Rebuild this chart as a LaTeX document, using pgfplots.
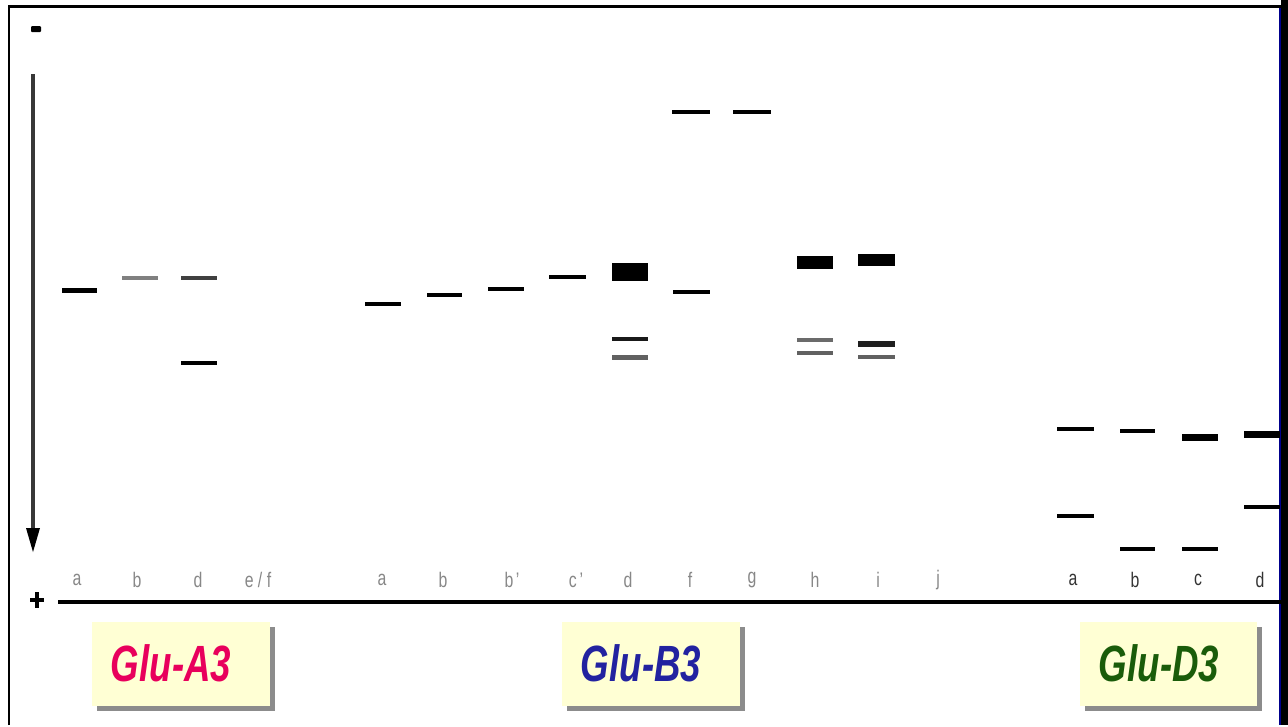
\documentclass[border=0pt]{standalone}
\usepackage{pgfplots}
\pgfplotsset{compat=1.18}
\usepackage{fontspec}
\setmainfont{Liberation Sans}
\definecolor{boxfill}{RGB}{255,255,212}
\definecolor{aRed}{RGB}{232,0,92}
\definecolor{bBlue}{RGB}{34,34,160}
\definecolor{dGreen}{RGB}{26,92,10}
\definecolor{shadowgray}{RGB}{140,140,140}
\definecolor{lanegray}{RGB}{135,135,135}
\newdimen\px \px=0.01cm
\tikzset{
  band/.style={line width=#1\px, line cap=butt, mark=none},
  band/.default=4,
  lane/.style={font=\fontsize{6}{6}\selectfont, text=lanegray, xscale=0.75, inner sep=0pt},
  laneD/.style={font=\fontsize{6}{6}\selectfont, text=black!80, xscale=0.75, inner sep=0pt},
  gtitle/.style={font=\fontsize{14.5}{16}\selectfont\bfseries\itshape, xscale=0.72, inner sep=0pt},
}
\begin{document}
\begin{tikzpicture}
\begin{axis}[
  width=12.88cm, height=7.25cm, scale only axis,
  xmin=0, xmax=1288, ymin=0, ymax=725, y dir=reverse,
  hide axis, clip=false,
]
\path (axis cs:0,0) rectangle (axis cs:1288,725);
% ---------- frame ----------
\draw[line width=3\px] (axis cs:9,725) -- (axis cs:9,6) -- (axis cs:1282,6);
\fill[black] (axis cs:1281,0) rectangle (axis cs:1288,725);
\draw[blue!55!black, line width=1.5\px] (axis cs:1280,8) -- (axis cs:1280,725);
% ---------- electrodes and arrow ----------
\fill[black, rounded corners=1\px] (axis cs:31,26) rectangle (axis cs:41,32);
\draw[black!78, line width=3.5\px] (axis cs:33,74) -- (axis cs:33,532);
\fill[black] (axis cs:26,528) -- (axis cs:40,528) -- (axis cs:33,552) -- cycle;
\draw[black, line width=4\px] (axis cs:30,600) -- (axis cs:44,600);
\draw[black, line width=4\px] (axis cs:37,592) -- (axis cs:37,608);
\draw[black, line width=4\px] (axis cs:58,602) -- (axis cs:1281,602);

% ---------- Glu-A3 bands ----------
\addplot[band=5, black] coordinates {(62,290) (97,290)};
\addplot[band=4, black!50] coordinates {(122,278) (158,278)};
\addplot[band=4.5, black!75] coordinates {(181,278) (217,278)};
\addplot[band=4, black] coordinates {(181,363) (217,363)};
% ---------- Glu-B3 bands ----------
\addplot[band=4, black] coordinates {(365,304) (401,304)};
\addplot[band=4, black] coordinates {(427,295) (462,295)};
\addplot[band=4, black] coordinates {(488,289) (524,289)};
\addplot[band=4, black] coordinates {(549,277) (586,277)};
\addplot[band=18, black] coordinates {(612,272) (648,272)};
\addplot[band=4, black!90] coordinates {(612,339) (648,339)};
\addplot[band=5, black!62] coordinates {(612,357) (648,357)};
\addplot[band=4, black] coordinates {(672,112) (710,112)};
\addplot[band=4, black] coordinates {(673,292) (710,292)};
\addplot[band=4, black] coordinates {(733,112) (771,112)};
\addplot[band=13, black] coordinates {(797,262.5) (833,262.5)};
\addplot[band=4.5, black!58] coordinates {(797,340) (833,340)};
\addplot[band=4.5, black!62] coordinates {(797,353) (833,353)};
\addplot[band=12, black] coordinates {(858,260) (895,260)};
\addplot[band=5.5, black!88] coordinates {(858,344) (895,344)};
\addplot[band=4.5, black!62] coordinates {(858,357) (895,357)};
% ---------- Glu-D3 bands ----------
\addplot[band=4, black] coordinates {(1057,429) (1094,429)};
\addplot[band=4, black] coordinates {(1057,516) (1094,516)};
\addplot[band=4.5, black] coordinates {(1120,431) (1155,431)};
\addplot[band=4, black] coordinates {(1120,549) (1155,549)};
\addplot[band=7, black] coordinates {(1182,437) (1218,437)};
\addplot[band=4, black] coordinates {(1182,549) (1218,549)};
\addplot[band=7, black] coordinates {(1244,434) (1280,434)};
\addplot[band=4, black] coordinates {(1244,507) (1280,507)};

% ---------- lane labels ----------
\node[lane] at (axis cs:77,580) {a};
\node[lane] at (axis cs:137,580) {b};
\node[lane] at (axis cs:198,580) {d};
\node[lane] at (axis cs:258,580) {e / f};
\node[lane] at (axis cs:382,580) {a};
\node[lane] at (axis cs:443,580) {b};
\node[lane] at (axis cs:512,580) {b\,'};
\node[lane] at (axis cs:576,580) {c\,'};
\node[lane] at (axis cs:628,580) {d};
\node[lane] at (axis cs:690,580) {f};
\node[lane] at (axis cs:752,580) {g};
\node[lane] at (axis cs:815,580) {h};
\node[lane] at (axis cs:878,580) {i};
\node[lane] at (axis cs:938,580) {j};
\node[laneD] at (axis cs:1073,580) {a};
\node[laneD] at (axis cs:1135,580) {b};
\node[laneD] at (axis cs:1198,580) {c};
\node[laneD] at (axis cs:1260,580) {d};

% ---------- group boxes ----------
\fill[shadowgray] (axis cs:97,627) rectangle (axis cs:275,711);
\fill[boxfill] (axis cs:92,622) rectangle (axis cs:270,706);
\node[gtitle, text=aRed] at (axis cs:171,663) {Glu-A3};
\fill[shadowgray] (axis cs:567,627) rectangle (axis cs:745,711);
\fill[boxfill] (axis cs:562,622) rectangle (axis cs:740,706);
\node[gtitle, text=bBlue] at (axis cs:641,663) {Glu-B3};
\fill[shadowgray] (axis cs:1085,627) rectangle (axis cs:1262,711);
\fill[boxfill] (axis cs:1080,622) rectangle (axis cs:1257,706);
\node[gtitle, text=dGreen] at (axis cs:1159,663) {Glu-D3};
\end{axis}
\end{tikzpicture}
\end{document}
